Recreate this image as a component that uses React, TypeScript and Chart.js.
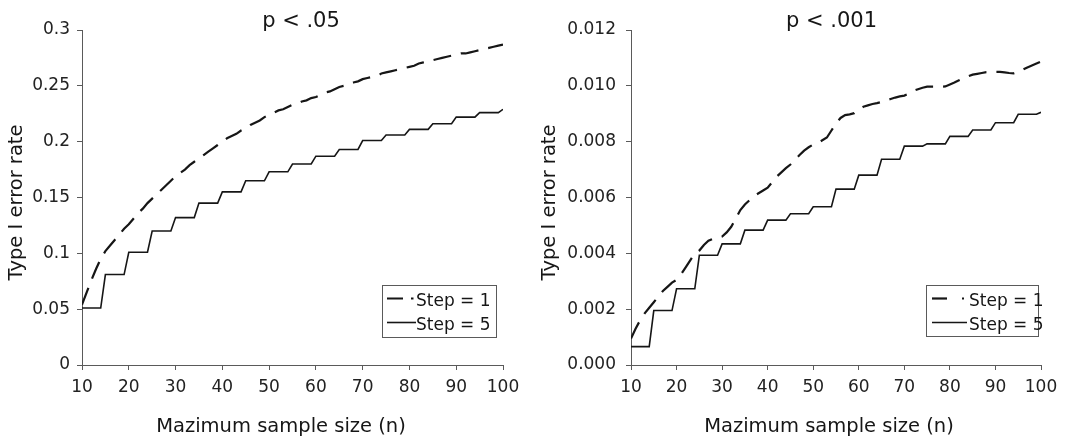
import React, { useEffect, useRef } from "react";
import { Chart, registerables } from "chart.js";

Chart.register(...registerables);

const FONT = "'DejaVu Sans', 'Liberation Sans', sans-serif";

// Maximum sample size n (x categories)
const N = [
  10, 11, 12, 13, 14, 15, 16, 17, 18, 19,
  20, 21, 22, 23, 24, 25, 26, 27, 28, 29,
  30, 31, 32, 33, 34, 35, 36, 37, 38, 39,
  40, 41, 42, 43, 44, 45, 46, 47, 48, 49,
  50, 51, 52, 53, 54, 55, 56, 57, 58, 59,
  60, 61, 62, 63, 64, 65, 66, 67, 68, 69,
  70, 71, 72, 73, 74, 75, 76, 77, 78, 79,
  80, 81, 82, 83, 84, 85, 86, 87, 88, 89,
  90, 91, 92, 93, 94, 95, 96, 97, 98, 99,
  100,
];

const X_TICKS = [10, 20, 30, 40, 50, 60, 70, 80, 90, 100];

// p < .05 panel
const P05_STEP1 = [
  0.054, 0.065, 0.076, 0.086, 0.095, 0.102, 0.107, 0.112, 0.117, 0.122,
  0.126, 0.131, 0.136, 0.140, 0.145, 0.149, 0.153, 0.157, 0.161, 0.165,
  0.169, 0.172, 0.175, 0.179, 0.182, 0.185, 0.188, 0.191, 0.194, 0.197,
  0.200, 0.203, 0.205, 0.207, 0.210, 0.212, 0.215, 0.217, 0.219, 0.222,
  0.224, 0.226, 0.228, 0.229, 0.231, 0.233, 0.234, 0.236, 0.237, 0.239,
  0.240, 0.242, 0.244, 0.245, 0.247, 0.249, 0.250, 0.252, 0.253, 0.254,
  0.256, 0.257, 0.258, 0.259, 0.261, 0.262, 0.263, 0.264, 0.265, 0.266,
  0.267, 0.268, 0.270, 0.271, 0.272, 0.273, 0.274, 0.275, 0.276, 0.277,
  0.278, 0.279, 0.279, 0.280, 0.281, 0.282, 0.283, 0.284, 0.285, 0.286,
  0.287,
];
const P05_STEP5 = [
  0.051, 0.051, 0.051, 0.051, 0.051, 0.081, 0.081, 0.081, 0.081, 0.081,
  0.101, 0.101, 0.101, 0.101, 0.101, 0.120, 0.120, 0.120, 0.120, 0.120,
  0.132, 0.132, 0.132, 0.132, 0.132, 0.145, 0.145, 0.145, 0.145, 0.145,
  0.155, 0.155, 0.155, 0.155, 0.155, 0.165, 0.165, 0.165, 0.165, 0.165,
  0.173, 0.173, 0.173, 0.173, 0.173, 0.180, 0.180, 0.180, 0.180, 0.180,
  0.187, 0.187, 0.187, 0.187, 0.187, 0.193, 0.193, 0.193, 0.193, 0.193,
  0.201, 0.201, 0.201, 0.201, 0.201, 0.206, 0.206, 0.206, 0.206, 0.206,
  0.211, 0.211, 0.211, 0.211, 0.211, 0.216, 0.216, 0.216, 0.216, 0.216,
  0.222, 0.222, 0.222, 0.222, 0.222, 0.226, 0.226, 0.226, 0.226, 0.226,
  0.229,
];
const P05_Y_TICKS = [0, 0.05, 0.1, 0.15, 0.2, 0.25, 0.3];
const P05_Y_LABELS = ["0", "0.05", "0.1", "0.15", "0.2", "0.25", "0.3"];

// p < .001 panel
const P001_STEP1 = [
  0.00095, 0.00130, 0.00160, 0.00185, 0.00205, 0.00225, 0.00245, 0.00265, 0.00280, 0.00295,
  0.00305, 0.00325, 0.00350, 0.00375, 0.00400, 0.00410, 0.00430, 0.00445, 0.00452, 0.00455,
  0.00460, 0.00475, 0.00495, 0.00525, 0.00555, 0.00575, 0.00590, 0.00605, 0.00615, 0.00625,
  0.00635, 0.00655, 0.00675, 0.00690, 0.00705, 0.00718, 0.00735, 0.00752, 0.00768, 0.00780,
  0.00790, 0.00795, 0.00805, 0.00815, 0.00840, 0.00865, 0.00885, 0.00895, 0.00898, 0.00902,
  0.00915, 0.00925, 0.00930, 0.00935, 0.00938, 0.00942, 0.00948, 0.00953, 0.00958, 0.00962,
  0.00965, 0.00972, 0.00982, 0.00988, 0.00993, 0.00997, 0.00997, 0.00997, 0.00997, 0.00998,
  0.01005, 0.01012, 0.01020, 0.01027, 0.01034, 0.01040, 0.01043, 0.01046, 0.01049, 0.01050,
  0.01050, 0.01050, 0.01048, 0.01046, 0.01045, 0.01050, 0.01058, 0.01066, 0.01073, 0.01080,
  0.01087,
];
const P001_STEP5 = [
  0.00066, 0.00066, 0.00066, 0.00066, 0.00066, 0.00195, 0.00195, 0.00195, 0.00195, 0.00195,
  0.00273, 0.00273, 0.00273, 0.00273, 0.00273, 0.00393, 0.00393, 0.00393, 0.00393, 0.00393,
  0.00434, 0.00434, 0.00434, 0.00434, 0.00434, 0.00483, 0.00483, 0.00483, 0.00483, 0.00483,
  0.00519, 0.00519, 0.00519, 0.00519, 0.00519, 0.00542, 0.00542, 0.00542, 0.00542, 0.00542,
  0.00567, 0.00567, 0.00567, 0.00567, 0.00567, 0.00630, 0.00630, 0.00630, 0.00630, 0.00630,
  0.00680, 0.00680, 0.00680, 0.00680, 0.00680, 0.00737, 0.00737, 0.00737, 0.00737, 0.00737,
  0.00784, 0.00784, 0.00784, 0.00784, 0.00784, 0.00792, 0.00792, 0.00792, 0.00792, 0.00792,
  0.00819, 0.00819, 0.00819, 0.00819, 0.00819, 0.00842, 0.00842, 0.00842, 0.00842, 0.00842,
  0.00868, 0.00868, 0.00868, 0.00868, 0.00868, 0.00898, 0.00898, 0.00898, 0.00898, 0.00898,
  0.00905,
];
const P001_Y_TICKS = [0, 0.002, 0.004, 0.006, 0.008, 0.01, 0.012];
const P001_Y_LABELS = ["0.000", "0.002", "0.004", "0.006", "0.008", "0.010", "0.012"];

const SERIES_LABELS = ["Step = 1", "Step = 5"];
const X_TITLE = "Mazimum sample size (n)";
const Y_TITLE = "Type I error rate";

const INK = "#161616";
const AXIS = "#5a5a5a";

const decorPlugin = {
  id: "decor",
  afterDraw(chart: any, _args: any, opts: any) {
    const ctx = chart.ctx;
    ctx.save();
    ctx.fillStyle = INK;

    // panel title
    ctx.font = `21px ${FONT}`;
    ctx.textAlign = "center";
    ctx.textBaseline = "alphabetic";
    ctx.fillText(opts.title, opts.titleX, 26.5);

    // axis titles
    ctx.font = `19.5px ${FONT}`;
    ctx.textBaseline = "middle";
    ctx.fillText(X_TITLE, opts.xTitleX, 427);
    ctx.save();
    ctx.translate(opts.yTitleX, 202.5);
    ctx.rotate(-Math.PI / 2);
    ctx.fillText(Y_TITLE, 0, 0);
    ctx.restore();

    // legend box
    const { bx, by, bw, bh, sx0, sx1d, sx1s, tx, legendDash } = opts;
    ctx.strokeStyle = AXIS;
    ctx.lineWidth = 1;
    ctx.setLineDash([]);
    ctx.strokeRect(bx + 0.5, by + 0.5, bw, bh);

    const ds = chart.data.datasets;
    const rows = [298.5, 322.5];
    ctx.font = `17px ${FONT}`;
    ctx.textAlign = "left";
    ctx.textBaseline = "middle";
    ds.forEach((d: any, i: number) => {
      ctx.save();
      ctx.strokeStyle = d.borderColor;
      ctx.lineWidth = d.borderWidth;
      ctx.setLineDash(d.borderDash ? legendDash : []);
      ctx.beginPath();
      ctx.moveTo(sx0, rows[i]);
      ctx.lineTo(i === 0 ? sx1d : sx1s, rows[i]);
      ctx.stroke();
      ctx.restore();
      ctx.fillStyle = INK;
      ctx.fillText(d.label, tx, rows[i] + 3);
    });
    ctx.restore();
  },
};

type Panel = {
  title: string;
  step1: number[];
  step5: number[];
  yMax: number;
  yTicks: number[];
  yLabels: string[];
  yWidth: number;
  padRight: number;
  yTickPad: number;
  decor: any;
};

function makeConfig(p: Panel): any {
  return {
    type: "line",
    data: {
      datasets: [
        {
          label: SERIES_LABELS[0],
          data: N.map((n, i) => ({ x: n, y: p.step1[i] })),
          borderColor: INK,
          borderWidth: 2.2,
          borderDash: [18, 10],
          pointRadius: 0,
          tension: 0,
          fill: false,
        },
        {
          label: SERIES_LABELS[1],
          data: N.map((n, i) => ({ x: n, y: p.step5[i] })),
          borderColor: INK,
          borderWidth: 1.6,
          pointRadius: 0,
          tension: 0,
          fill: false,
        },
      ],
    },
    options: {
      animation: false,
      responsive: false,
      maintainAspectRatio: false,
      layout: { padding: { left: 0, right: p.padRight, top: 30, bottom: 0 } },
      plugins: {
        legend: { display: false },
        title: { display: false },
        tooltip: { enabled: false },
        decor: p.decor,
      },
      scales: {
        x: {
          type: "linear",
          min: 10,
          max: 100,
          afterBuildTicks: (s: any) => {
            s.ticks = X_TICKS.map((v) => ({ value: v }));
          },
          afterFit: (s: any) => {
            s.height = 76;
          },
          ticks: {
            color: "#222",
            font: { family: FONT, size: 17 },
            padding: 7,
            maxRotation: 0,
            autoSkip: false,
            callback: (v: number) => String(v),
          },
          grid: { drawOnChartArea: false, tickLength: 5, color: AXIS },
          border: { color: AXIS, width: 1 },
          title: { display: false },
        },
        y: {
          type: "linear",
          min: 0,
          max: p.yMax,
          afterBuildTicks: (s: any) => {
            s.ticks = p.yTicks.map((v) => ({ value: v }));
          },
          afterFit: (s: any) => {
            s.width = p.yWidth;
          },
          ticks: {
            color: "#222",
            font: { family: FONT, size: 17 },
            padding: p.yTickPad,
            autoSkip: false,
            callback: (_v: number, i: number) => p.yLabels[i],
          },
          grid: { drawOnChartArea: false, tickLength: 5, color: AXIS },
          border: { color: AXIS, width: 1 },
          title: { display: false },
        },
      },
    },
    plugins: [decorPlugin],
  };
}

const PANELS: Panel[] = [
  {
    title: "p < .05",
    step1: P05_STEP1,
    step5: P05_STEP5,
    yMax: 0.3,
    yTicks: P05_Y_TICKS,
    yLabels: P05_Y_LABELS,
    yWidth: 82,
    padRight: 32,
    yTickPad: 7,
    decor: {
      title: "p < .05", titleX: 301, xTitleX: 281, yTitleX: 16.5,
      bx: 382, by: 285, bw: 114, bh: 52, sx0: 387, sx1d: 413.5, sx1s: 416, tx: 416,
      legendDash: [16, 8],
    },
  },
  {
    title: "p < .001",
    step1: P001_STEP1,
    step5: P001_STEP5,
    yMax: 0.012,
    yTicks: P001_Y_TICKS,
    yLabels: P001_Y_LABELS,
    yWidth: 96,
    padRight: 29,
    yTickPad: 10,
    decor: {
      title: "p < .001", titleX: 296.5, xTitleX: 294, yTitleX: 15,
      bx: 391, by: 285, bw: 112, bh: 51, sx0: 397, sx1d: 429, sx1s: 432, tx: 434,
      legendDash: [15, 15],
    },
  },
];

function ChartPanel({ panel, left }: { panel: Panel; left: number }) {
  const ref = useRef<HTMLCanvasElement | null>(null);
  useEffect(() => {
    if (!ref.current) return;
    const chart = new Chart(ref.current, makeConfig(panel));
    return () => chart.destroy();
  }, [panel]);
  return (
    <div style={{ position: "absolute", left, top: 0, width: 535, height: 441 }}>
      <canvas ref={ref} width={535} height={441} style={{ display: "block", width: 535, height: 441 }} />
    </div>
  );
}

export default function App() {
  return (
    <div style={{ position: "absolute", left: 0, top: 0, width: 1070, height: 441, background: "#fff", overflow: "hidden" }}>
      <ChartPanel panel={PANELS[0]} left={0} />
      <ChartPanel panel={PANELS[1]} left={535} />
    </div>
  );
}
